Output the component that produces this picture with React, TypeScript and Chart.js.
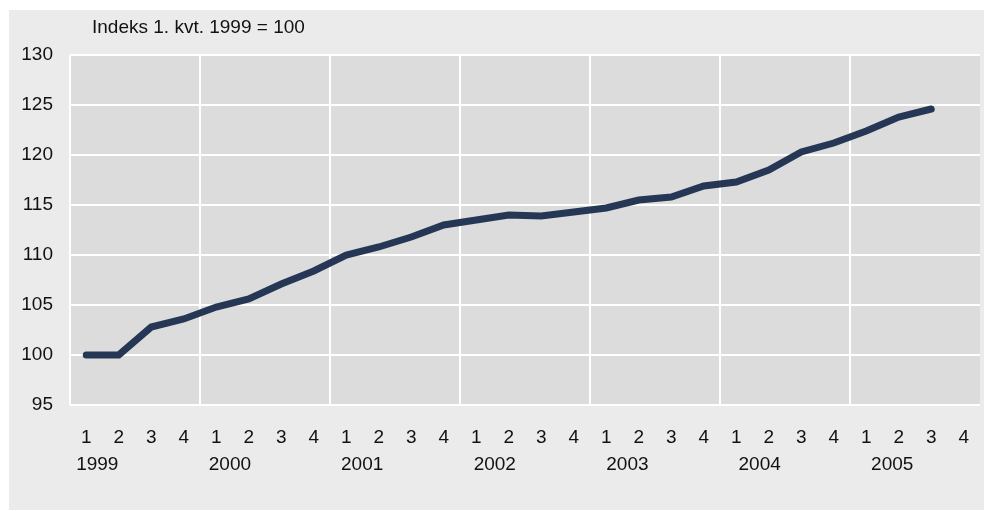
import React, { useEffect, useRef } from "react";
import { Chart, registerables } from "chart.js";

Chart.register(...registerables);

const quarterLabels = [
  "1", "2", "3", "4",
  "1", "2", "3", "4",
  "1", "2", "3", "4",
  "1", "2", "3", "4",
  "1", "2", "3", "4",
  "1", "2", "3", "4",
  "1", "2", "3", "4",
];

const yearLabels = ["1999", "2000", "2001", "2002", "2003", "2004", "2005"];
// positions of the year labels along the quarter axis (in quarter units)
const yearLabelPositions = [0.34, 4.42, 8.49, 12.57, 16.65, 20.72, 24.8];

const indexValues: (number | null)[] = [
  100.0, 100.0, 102.8, 103.6,
  104.8, 105.6, 107.1, 108.4,
  110.0, 110.8, 111.8, 113.0,
  113.5, 114.0, 113.9, 114.3,
  114.7, 115.5, 115.8, 116.9,
  117.3, 118.5, 120.3, 121.2,
  122.4, 123.8, 124.6, null,
];

const yMin = 95;
const yMax = 130;
const yStep = 5;

const titleText = "Indeks 1. kvt. 1999 = 100";

const FONT_FAMILY = "'Liberation Sans Narrow', 'Arial Narrow', 'Liberation Sans', Arial, sans-serif";
const FONT_SIZE = 19;

export default function App() {
  const canvasRef = useRef<HTMLCanvasElement | null>(null);

  useEffect(() => {
    if (!canvasRef.current) return;

    const plotBg = {
      id: "plotBg",
      beforeDraw(chart: any) {
        const { ctx, chartArea } = chart;
        ctx.save();
        ctx.fillStyle = "#dcdcdc";
        ctx.fillRect(chartArea.left, chartArea.top, chartArea.right - chartArea.left, chartArea.bottom - chartArea.top);
        ctx.restore();
      },
    };

    const titlePlugin = {
      id: "titleText",
      afterDraw(chart: any) {
        const { ctx, chartArea } = chart;
        ctx.save();
        ctx.font = `${FONT_SIZE}px ${FONT_FAMILY}`;
        ctx.fillStyle = "#111111";
        ctx.textAlign = "left";
        ctx.textBaseline = "middle";
        ctx.fillText(titleText, chartArea.left + 22, chartArea.top - 27);
        ctx.restore();
      },
    };

    const chart = new Chart(canvasRef.current, {
      type: "line",
      data: {
        labels: quarterLabels,
        datasets: [
          {
            data: indexValues,
            borderColor: "#263756",
            borderWidth: 7,
            borderCapStyle: "round",
            borderJoinStyle: "miter",
            pointRadius: 0,
            tension: 0,
            spanGaps: false,
          },
        ],
      },
      options: {
        animation: false,
        responsive: true,
        maintainAspectRatio: false,
        layout: { padding: { top: 45, right: 4, left: 0, bottom: 0 } },
        plugins: {
          legend: { display: false },
          tooltip: { enabled: false },
          title: { display: false },
        },
        scales: {
          x: {
            type: "category",
            offset: true,
            position: "bottom",
            border: { display: false },
            grid: {
              offset: true,
              drawTicks: false,
              lineWidth: 2,
              color: (ctx: any) => (ctx.index % 4 === 0 ? "#ffffff" : "rgba(0,0,0,0)"),
            },
            ticks: {
              autoSkip: false,
              maxRotation: 0,
              padding: 21,
              color: "#111111",
              font: { family: FONT_FAMILY, size: FONT_SIZE },
            },
            afterFit: (scale: any) => {
              scale.height = 47;
              scale.paddingLeft = 0;
              scale.paddingRight = 0;
            },
          },
          x2: {
            type: "linear",
            position: "bottom",
            min: -0.5,
            max: 27.5,
            border: { display: false },
            grid: { display: false, drawTicks: false },
            afterBuildTicks: (scale: any) => {
              scale.ticks = yearLabelPositions.map((v) => ({ value: v }));
            },
            ticks: {
              autoSkip: false,
              maxRotation: 0,
              padding: 1,
              color: "#111111",
              font: { family: FONT_FAMILY, size: FONT_SIZE },
              callback: (_v: any, i: number) => yearLabels[i],
            },
            afterFit: (scale: any) => {
              scale.height = 58;
              scale.paddingLeft = 0;
              scale.paddingRight = 0;
            },
          },
          y: {
            min: yMin,
            max: yMax,
            border: { display: false },
            grid: { color: "#ffffff", lineWidth: 2, drawTicks: false },
            ticks: {
              stepSize: yStep,
              padding: 17,
              color: "#111111",
              font: { family: FONT_FAMILY, size: FONT_SIZE },
            },
            afterFit: (scale: any) => {
              scale.width = 61;
            },
          },
        },
      },
      plugins: [plotBg, titlePlugin],
    });

    return () => chart.destroy();
  }, []);

  return (
    <div
      style={{
        position: "absolute",
        left: 9,
        top: 10,
        width: 975,
        height: 500,
        background: "#ebebeb",
      }}
    >
      <div style={{ position: "relative", width: 975, height: 500 }}>
        <canvas ref={canvasRef} />
      </div>
    </div>
  );
}
